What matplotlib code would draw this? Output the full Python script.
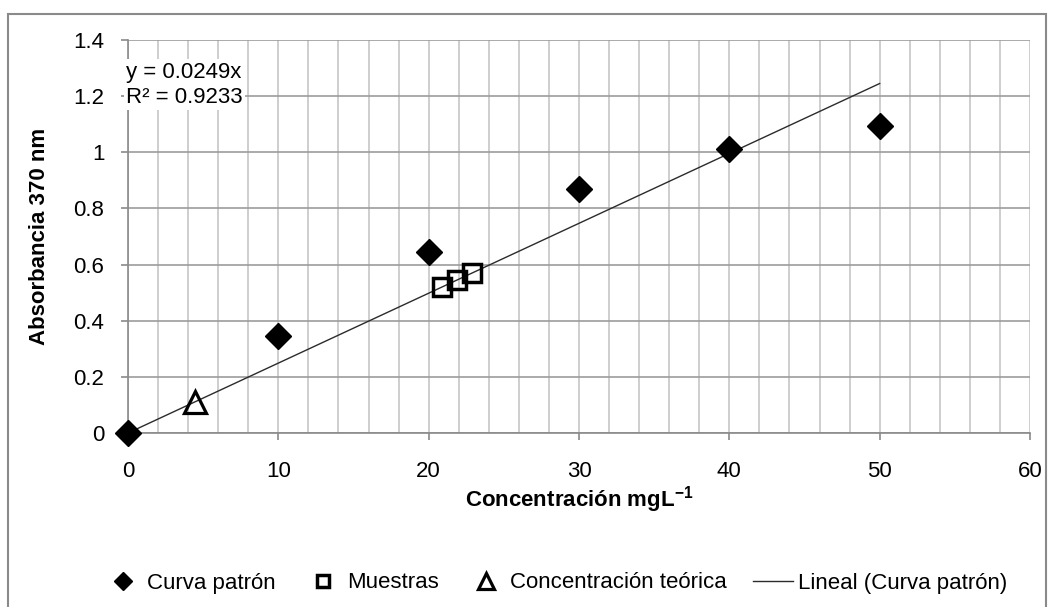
import numpy as np
import matplotlib
matplotlib.use('Agg')
import matplotlib.pyplot as plt
import matplotlib.ticker as ticker
from matplotlib.patches import Rectangle

  ## Datos
conc_patron = [0, 10, 20, 30, 40, 50]
abs_patron = [0.0, 0.345, 0.645, 0.87, 1.01, 1.095]

conc_muestras = [20.9, 21.9, 22.9]
abs_muestras = [0.52, 0.545, 0.57]

conc_teorica = [4.45]
abs_teorica = [0.11]

pendiente = 0.0249
r2 = 0.9233

  ## Estilo general
plt.rcParams['font.family'] = ['Liberation Sans', 'DejaVu Sans']
plt.rcParams['mathtext.fontset'] = 'custom'
plt.rcParams['mathtext.rm'] = 'Liberation Sans'
plt.rcParams['mathtext.bf'] = 'Liberation Sans:bold'

fig = plt.figure(figsize=(10.5, 6.07), dpi=100)
ax = fig.add_axes([128/1050, 1 - 433/607, 902/1050, 393/607])

  # marco exterior
fig.patches.append(Rectangle((8/1050, -0.01), 1038/1050, 1 - 14/607 + 0.01,
                             transform=fig.transFigure, fill=False,
                             edgecolor='#8a8a8a', linewidth=1.5))

  # linea de tendencia
x_fit = np.array([0, max(conc_patron)])
ax.plot(x_fit, pendiente * x_fit, color='#2b2b2b', linewidth=1.0,
        label='Lineal (Curva patrón)', zorder=3)

ax.plot(conc_patron, abs_patron, linestyle='none', marker='D', markersize=13,
        color='black', label='Curva patrón', zorder=4, clip_on=False)
ax.plot(conc_muestras, abs_muestras, linestyle='none', marker='s', markersize=13,
        markerfacecolor='none', markeredgecolor='black', markeredgewidth=2.5,
        label='Muestras', zorder=4)
ax.plot(conc_teorica, abs_teorica, linestyle='none', marker='^', markersize=16,
        markerfacecolor='none', markeredgecolor='black', markeredgewidth=2.3,
        label='Concentración teórica', zorder=4)

  # ejes
ax.set_xlim(0, 60)
ax.set_ylim(0, 1.4)
ax.xaxis.set_major_locator(ticker.MultipleLocator(10))
ax.xaxis.set_minor_locator(ticker.MultipleLocator(2))
ax.yaxis.set_major_locator(ticker.MultipleLocator(0.2))
ax.yaxis.set_major_formatter(ticker.FuncFormatter(lambda v, p: '%g' % round(v, 2)))

ax.grid(which='minor', axis='x', color='#c6c6c6', linewidth=1.2)
ax.grid(which='major', axis='x', color='#c6c6c6', linewidth=1.2)
ax.grid(which='major', axis='y', color='#9c9c9c', linewidth=1.2)
ax.set_axisbelow(True)

ax.spines['top'].set_visible(False)
ax.spines['right'].set_visible(False)
ax.spines['left'].set_color('#8a8a8a')
ax.spines['bottom'].set_color('#8a8a8a')
ax.spines['left'].set_linewidth(1.2)
ax.spines['bottom'].set_linewidth(1.2)

ax.tick_params(axis='x', which='major', direction='out', length=5, width=1.2,
               color='#8a8a8a', pad=15, labelsize=16)
ax.tick_params(axis='x', which='minor', length=0)
ax.tick_params(axis='y', direction='out', length=5, width=1.2,
               color='#8a8a8a', pad=12, labelsize=16)

ax.set_ylabel('Absorbancia 370 nm', fontsize=16, fontweight='bold')
ax.yaxis.set_label_coords((50 - 128) / 902, 0.5)
ax.set_xlabel(r'Concentración mgL$^{\mathbf{-1}}$', fontsize=16, fontweight='bold')
ax.xaxis.set_label_coords(0.5, (433 - 484) / 393)

  # ecuacion de la recta
ax.text(-0.002, 0.945, 'y = %.4fx\nR² = %.4f' % (pendiente, r2), transform=ax.transAxes,
        fontsize=16, va='top', ha='left', linespacing=1.25,
        bbox=dict(facecolor='white', edgecolor='none', pad=2), zorder=5)

  # leyenda
handles, labels = ax.get_legend_handles_labels()
orden = [1, 2, 3, 0]
fig.legend([handles[i] for i in orden], [labels[i] for i in orden],
           loc='center', bbox_to_anchor=(555/1050, 1 - 583/607), ncol=4,
           frameon=False, fontsize=16, handlelength=1.8, handletextpad=0.2,
           columnspacing=1.2, markerscale=0.7)

fig.savefig('out.png', dpi=100, facecolor='white')
